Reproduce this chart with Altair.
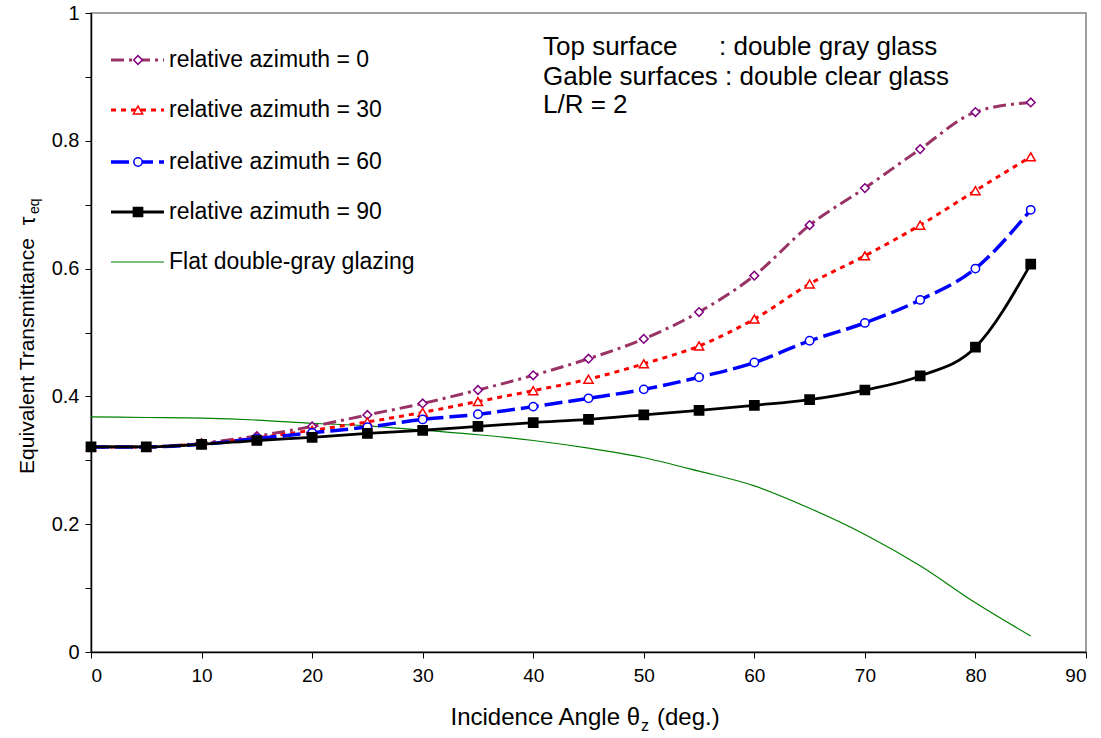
import altair as alt
import pandas as pd

angles = [0, 5, 10, 15, 20, 25, 30, 35, 40, 45, 50, 55, 60, 65, 70, 75, 80, 85]
az0 = [0.321, 0.321, 0.327, 0.338, 0.353, 0.371, 0.389, 0.410, 0.433, 0.459, 0.490, 0.532, 0.589, 0.668, 0.726, 0.787, 0.845, 0.860]
az30 = [0.321, 0.321, 0.326, 0.335, 0.347, 0.360, 0.375, 0.392, 0.409, 0.427, 0.451, 0.479, 0.521, 0.576, 0.620, 0.668, 0.722, 0.775]
az60 = [0.321, 0.321, 0.325, 0.334, 0.343, 0.352, 0.364, 0.372, 0.384, 0.397, 0.411, 0.430, 0.453, 0.487, 0.515, 0.551, 0.600, 0.692]
az90 = [0.321, 0.321, 0.325, 0.331, 0.336, 0.342, 0.347, 0.353, 0.359, 0.364, 0.371, 0.378, 0.386, 0.395, 0.410, 0.432, 0.477, 0.607]
flat = [0.368, 0.367, 0.366, 0.363, 0.358, 0.354, 0.347, 0.340, 0.331, 0.319, 0.304, 0.283, 0.260, 0.225, 0.184, 0.135, 0.077, 0.025]

series = ["relative azimuth = 0", "relative azimuth = 30", "relative azimuth = 60",
          "relative azimuth = 90", "Flat double-gray glazing"]
values = [az0, az30, az60, az90, flat]

line_colors = ["#993366", "#FF0000", "#0000FF", "#000000", "#008000"]
marker_colors = ["#800080", "#FF0000", "#0000FF", "#000000"]
marker_fill = ["white", "white", "white", "#000000"]
dashes = [[13, 5, 3, 5], [5, 5], [18, 6], None, None]
widths = [3, 3, 3.5, 2.8, 1.2]
shapes = ["diamond", "triangle-up", "circle", "square"]
sizes = [75, 85, 70, 85]

FONT = "Liberation Sans"

xscale = alt.Scale(domain=[0, 90], nice=False)
yscale = alt.Scale(domain=[0, 1], nice=False)

xaxis = alt.Axis(values=list(range(0, 91, 10)), title=None, grid=False,
                 labelFont=FONT, labelFontSize=19, labelColor="black",
                 labelPadding=8, tickSize=6, tickColor="black", tickWidth=1,
                 domainColor="black", domainWidth=1.5)
yaxis = alt.Axis(values=[i / 10 for i in range(11)], title=None, grid=False,
                 labelExpr="round(datum.value*10) % 2 == 0 ? format(datum.value, '~g') : ''",
                 labelFont=FONT, labelFontSize=20, labelColor="black",
                 labelPadding=6, tickSize=6, tickColor="black", tickWidth=1,
                 domainColor="black", domainWidth=1.5)

# draw flat line first (underneath), then the azimuth series
order = [4, 0, 1, 2, 3]
line_layers = []
point_layers = []
for k, i in enumerate(order):
    d = pd.DataFrame({"angle": angles, "tau": values[i], "series": series[i]})
    kw = dict(interpolate="monotone", color=line_colors[i], strokeWidth=widths[i])
    if dashes[i] is not None:
        kw["strokeDash"] = dashes[i]
    if k == 0:
        enc_x = alt.X("angle:Q", scale=xscale, axis=xaxis)
        enc_y = alt.Y("tau:Q", scale=yscale, axis=yaxis)
    else:
        enc_x = alt.X("angle:Q", scale=xscale)
        enc_y = alt.Y("tau:Q", scale=yscale)
    line_layers.append(alt.Chart(d).mark_line(**kw).encode(x=enc_x, y=enc_y))
    if i < 4:
        point_layers.append(alt.Chart(d).mark_point(
            shape=shapes[i], filled=True, fill=marker_fill[i], stroke=marker_colors[i],
            strokeWidth=1.5, size=sizes[i], opacity=1).encode(
            x=alt.X("angle:Q", scale=xscale), y=alt.Y("tau:Q", scale=yscale)))

base = alt.Chart(pd.DataFrame({"a": [0]}))

# custom legend
legend_layers = []
leg_y = [47, 97, 149, 199, 249]
for i, s in enumerate(series):
    yy = leg_y[i]
    kw = dict(color=line_colors[i], strokeWidth=widths[i])
    if dashes[i] is not None:
        kw["strokeDash"] = dashes[i]
    legend_layers.append(base.mark_rule(**kw).encode(
        x=alt.value(20), x2=alt.value(73), y=alt.value(yy)))
    if i < 4:
        legend_layers.append(base.mark_point(shape=shapes[i], filled=True, fill=marker_fill[i],
                                             stroke=marker_colors[i], strokeWidth=1.5,
                                             size=sizes[i], opacity=1).encode(
            x=alt.value(47), y=alt.value(yy)))
    legend_layers.append(base.mark_text(text=s, align="left", baseline="middle", font=FONT,
                                        fontSize=23, color="black").encode(
        x=alt.value(78), y=alt.value(yy)))

ann_font = 26
annots = [
    base.mark_text(text="Top surface", align="left", baseline="middle", font=FONT,
                   fontSize=ann_font, color="black").encode(x=alt.value(452), y=alt.value(34)),
    base.mark_text(text=": double gray glass", align="left", baseline="middle", font=FONT,
                   fontSize=ann_font, color="black").encode(x=alt.value(628), y=alt.value(34)),
    base.mark_text(text="Gable surfaces : double clear glass", align="left", baseline="middle", font=FONT,
                   fontSize=ann_font, color="black").encode(x=alt.value(452), y=alt.value(64)),
    base.mark_text(text="L/R = 2", align="left", baseline="middle", font=FONT,
                   fontSize=ann_font, color="black").encode(x=alt.value(452), y=alt.value(92)),
]

# axis titles
titles = [
    base.mark_text(text="Incidence Angle θ", align="right", baseline="middle", font=FONT,
                   fontSize=24, color="black").encode(x=alt.value(549), y=alt.value(705)),
    base.mark_text(text="z", align="left", baseline="middle", font=FONT,
                   fontSize=16, color="black").encode(x=alt.value(550), y=alt.value(713)),
    base.mark_text(text="(deg.)", align="left", baseline="middle", font=FONT,
                   fontSize=24, color="black").encode(x=alt.value(566), y=alt.value(705)),
    base.mark_text(text="Equivalent Transmittance", align="center", baseline="middle", font=FONT,
                   fontSize=21, color="black", angle=270).encode(x=alt.value(-63), y=alt.value(343)),
    base.mark_text(text="τ", align="center", baseline="middle", font=FONT,
                   fontSize=22, color="black", angle=270).encode(x=alt.value(-63), y=alt.value(208)),
    base.mark_text(text="eq", align="left", baseline="middle", font=FONT,
                   fontSize=14, color="black", angle=270).encode(x=alt.value(-56), y=alt.value(201)),
]

chart = alt.layer(*line_layers, *point_layers, *legend_layers, *annots, *titles).properties(
    width=995, height=639,
    autosize=alt.AutoSizeParams(type="none"),
    padding={"left": 91, "top": 13, "right": 15, "bottom": 86},
).configure_view(stroke="#808080", strokeWidth=1.5)

chart.save("out.html", embed_options={"renderer": "svg", "actions": False})
